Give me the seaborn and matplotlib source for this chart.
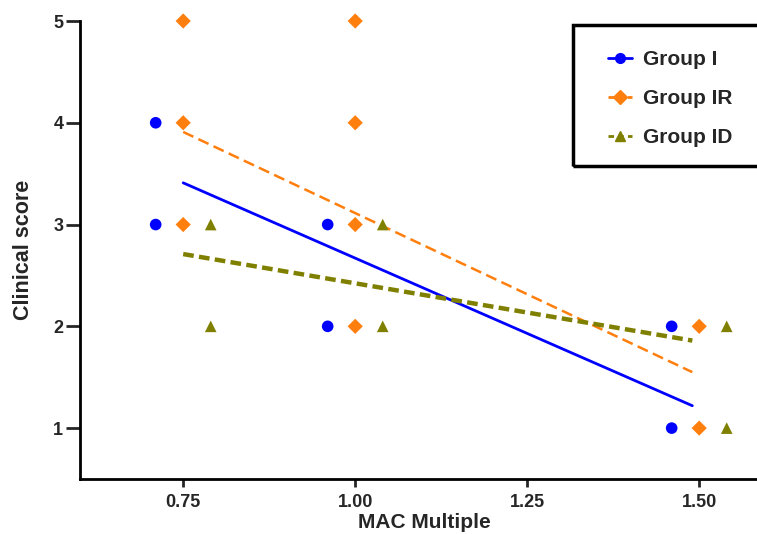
import pandas as pd
import matplotlib
matplotlib.use("Agg")
import matplotlib.pyplot as plt
from matplotlib.lines import Line2D
from matplotlib.patches import Rectangle
import seaborn as sns

# Data (dose = MAC multiple, score = clinical score)
groups = ["Group I", "Group IR", "Group ID"]
dose_I = [0.75, 0.75, 1.00, 1.00, 1.50, 1.50]
score_I = [4, 3, 3, 2, 2, 1]
dose_IR = [0.75, 0.75, 0.75, 1.00, 1.00, 1.00, 1.00, 1.50, 1.50]
score_IR = [5, 4, 3, 5, 4, 3, 2, 2, 1]
dose_ID = [0.75, 0.75, 1.00, 1.00, 1.50, 1.50]
score_ID = [3, 2, 3, 2, 2, 1]

# fitted regression lines (end points)
fit_x = [0.75, 1.49]
fit_I = [3.41, 1.22]
fit_IR = [3.91, 1.55]
fit_ID = [2.71, 1.86]

colors = {"Group I": "#0000FF", "Group IR": "#FF7F0E", "Group ID": "#808000"}
markers = {"Group I": "o", "Group IR": "D", "Group ID": "^"}
offsets = {"Group I": -0.04, "Group IR": 0.0, "Group ID": 0.04}
sizes = {"Group I": 70, "Group IR": 60, "Group ID": 70}
styles = {"Group I": (None, 2.0), "Group IR": ((4.5, 2.2), 1.8), "Group ID": ((2.4, 1.2), 3.2)}

points = {
    "Group I": (dose_I, score_I),
    "Group IR": (dose_IR, score_IR),
    "Group ID": (dose_ID, score_ID),
}
fits = {"Group I": fit_I, "Group IR": fit_IR, "Group ID": fit_ID}

sns.set_style("ticks")
plt.rcParams["font.family"] = ["Liberation Sans", "DejaVu Sans"]
plt.rcParams["font.weight"] = "bold"

W, H = 757, 534
fig = plt.figure(figsize=(W / 100, H / 100), dpi=100)
ax = fig.add_axes([80 / W, 1 - 479 / H, 688 / W, 458 / H])

for g in groups:
    x, y = points[g]
    df = pd.DataFrame({"dose": [v + offsets[g] for v in x], "score": y})
    sns.scatterplot(data=df, x="dose", y="score", color=colors[g], marker=markers[g],
                    s=sizes[g], edgecolor="none", ax=ax, zorder=3, clip_on=False)
    fl = pd.DataFrame({"dose": fit_x, "score": fits[g]})
    dash, lw = styles[g]
    sns.lineplot(data=fl, x="dose", y="score", color=colors[g], linewidth=lw, ax=ax)
    if dash is not None:
        ax.lines[-1].set_dashes(dash)

ax.set_xlim(0.6, 1.6)
ax.set_ylim(0.5, 5.0)
ax.set_xticks([0.75, 1.00, 1.25, 1.50])
ax.set_xticklabels(["0.75", "1.00", "1.25", "1.50"])
ax.set_yticks([1, 2, 3, 4, 5])
ax.tick_params(axis="both", width=2, labelsize=13)
ax.tick_params(axis="x", length=6, pad=5)
ax.tick_params(axis="y", length=10, pad=2)
for lab in ax.get_xticklabels() + ax.get_yticklabels():
    lab.set_fontweight("bold")
ax.set_xlabel("MAC Multiple", fontsize=15, fontweight="bold", labelpad=1)
ax.set_ylabel("Clinical score", fontsize=15.5, fontweight="bold", labelpad=14)
sns.despine(ax=ax)
for sp in ["left", "bottom"]:
    ax.spines[sp].set_linewidth(2)
    ax.spines[sp].set_color("black")

# legend box (runs off the right edge like the original)
box = Rectangle((573 / W, 1 - 166 / H), 200 / W, 141 / H, transform=fig.transFigure,
                fill=False, edgecolor="black", linewidth=2.5, clip_on=False)
fig.add_artist(box)

handles = []
for g in groups:
    dash, lw = styles[g]
    h = Line2D([], [], color=colors[g], marker=markers[g], markersize=7,
               linewidth=2, linestyle="-" if dash is None else (0, (2, 1.5)))
    handles.append(h)
leg = fig.legend(handles, groups, loc="upper left", bbox_to_anchor=(608 / W, 1 - 50 / H),
                 frameon=False, prop={"weight": "bold", "size": 15}, handlelength=1.15,
                 labelspacing=0.97, borderpad=0, borderaxespad=0, handletextpad=0.55)

fig.savefig("out.png", dpi=100)
